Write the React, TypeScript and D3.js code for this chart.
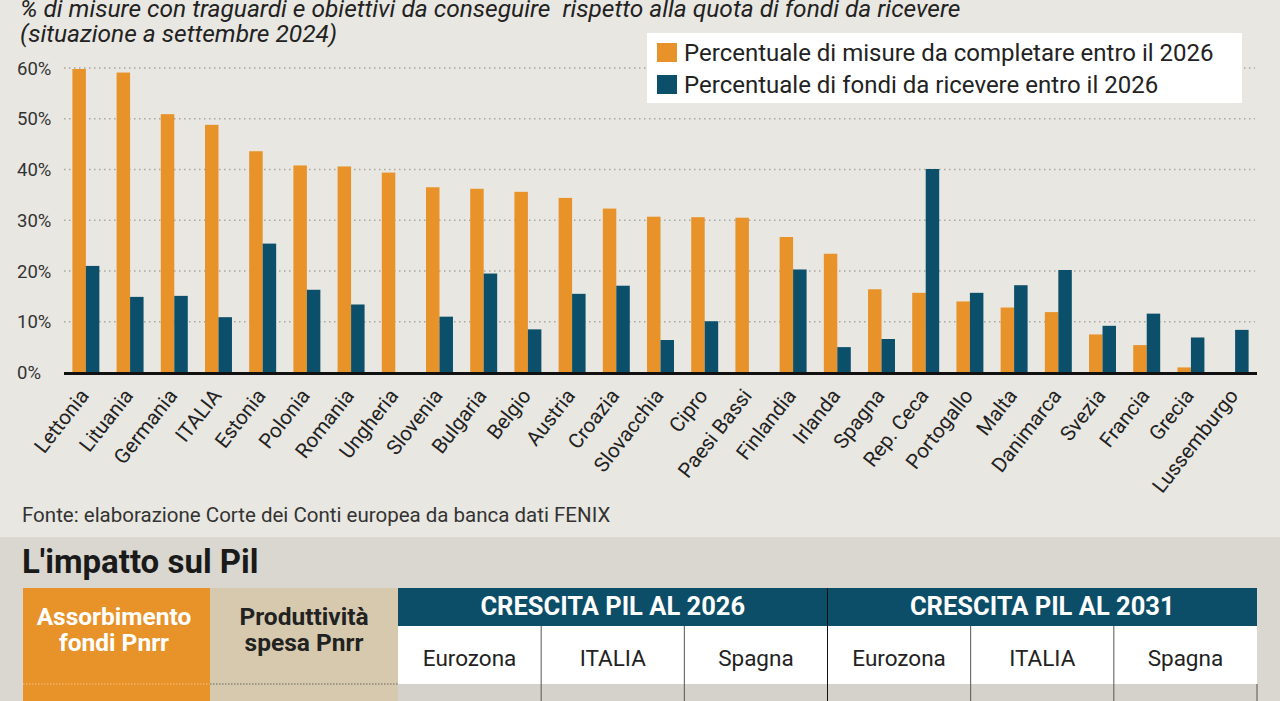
import React from 'react';
import * as d3 from 'd3';

const countries = ['Lettonia','Lituania','Germania','ITALIA','Estonia','Polonia','Romania','Ungheria','Slovenia','Bulgaria','Belgio','Austria','Croazia','Slovacchia','Cipro','Paesi Bassi','Finlandia','Irlanda','Spagna','Rep. Ceca','Portogallo','Malta','Danimarca','Svezia','Francia','Grecia','Lussemburgo'];
const misure = [59.8,59.1,50.9,48.8,43.6,40.8,40.6,39.4,36.5,36.2,35.6,34.4,32.3,30.7,30.6,30.5,26.7,23.4,16.4,15.7,14.0,12.8,11.9,7.5,5.4,1.0,0];
const fondi = [21.0,14.9,15.1,10.9,25.4,16.3,13.4,0,11.0,19.5,8.5,15.5,17.1,6.4,10.1,0,20.3,5.0,6.6,40.1,15.7,17.2,20.2,9.2,11.6,6.9,8.4];
const yTicks = [0,10,20,30,40,50,60];
const seriesKeys = ['misure','fondi'];
const seriesLabels = ['Percentuale di misure da completare entro il 2026','Percentuale di fondi da ricevere entro il 2026'];
const titleLines = ['% di misure con traguardi e obiettivi da conseguire  rispetto alla quota di fondi da ricevere','(situazione a settembre 2024)'];
const source = 'Fonte: elaborazione Corte dei Conti europea da banca dati FENIX';
const tableTitle = "L'impatto sul Pil";
const groupHeaders = ['CRESCITA PIL AL 2026','CRESCITA PIL AL 2031'];
const subHeaders = ['Eurozona','ITALIA','Spagna'];
const leftHeaders = [['Assorbimento','fondi Pnrr'],['Produttività','spesa Pnrr']];

const ORANGE = '#E8922A';
const BLUE = '#0B4F6A';
const FONT = 'Roboto, sans-serif';

export default function App() {
  const x = d3.scaleBand<string>().domain(countries).range([64, 1257]).paddingInner(0.39).paddingOuter(0.19);
  const xs = d3.scaleBand<string>().domain(seriesKeys).range([0, x.bandwidth()]);
  const y = d3.scaleLinear().domain([0, 60]).range([372.5, 68]);
  const color = d3.scaleOrdinal<string, string>().domain(seriesKeys).range([ORANGE, BLUE]);
  const data = countries.map((c, i) => ({ c, misure: misure[i], fondi: fondi[i] }));

  const tX0 = 398, tX1 = 1257;
  const colX = d3.scaleBand<number>().domain(d3.range(6)).range([tX0, tX1]);

  return (
    <svg width={1280} height={701} style={{ position: 'absolute', left: 0, top: 0 }} fontFamily={FONT}>
      <rect x={0} y={0} width={1280} height={701} fill="#e9e7e1" />
      {titleLines.map((t, i) => (
        <text key={i} x={20} y={17 + i * 25} fontSize={24.5} fontStyle="italic" fill="#222" style={{ whiteSpace: 'pre' }}>{t}</text>
      ))}
      {yTicks.map(t => (
        <g key={t}>
          {t > 0 && <line x1={64} x2={1255} y1={y(t)} y2={y(t)} stroke="#a9a7a1" strokeWidth={1.3} strokeDasharray="1.5 3.5" />}
          <text x={17} y={y(t)} dy="0.36em" fontSize={18.5} fill="#333">{t}%</text>
        </g>
      ))}
      <rect x={647} y={33} width={595} height={70} fill="#ffffff" />
      {seriesLabels.map((s, i) => (
        <g key={s}>
          <rect x={657} y={43 + i * 32} width={20} height={19} fill={color(seriesKeys[i])} />
          <text x={684} y={61 + i * 32} fontSize={24} fill="#222">{s}</text>
        </g>
      ))}
      {data.map(d => (
        <g key={d.c} transform={`translate(${x(d.c)},0)`}>
          {seriesKeys.map(k => {
            const v = (d as any)[k] as number;
            if (!v) return null;
            return <rect key={k} x={xs(k)} y={y(v)} width={xs.bandwidth()} height={y(0) - y(v)} fill={color(k)} />;
          })}
        </g>
      ))}
      <line x1={64} x2={1257} y1={373.5} y2={373.5} stroke="#111" strokeWidth={3} />
      {countries.map(c => (
        <text key={c} transform={`translate(${(x(c) as number) + x.bandwidth() / 2 + 4},396) rotate(-52)`} textAnchor="end" fontSize={20.5} fill="#222">{c}</text>
      ))}
      <text x={22} y={522} fontSize={20.5} fill="#333">{source}</text>

      <rect x={0} y={537} width={1280} height={164} fill="#d9d7cf" />
      <text x={22} y={573} fontSize={33} fontWeight="bold" fill="#1a1a1a">{tableTitle}</text>
      <rect x={23} y={588} width={187} height={113} fill={ORANGE} />
      <rect x={210} y={588} width={188} height={113} fill="#d6c9ae" />
      <rect x={tX0} y={588} width={tX1 - tX0} height={38} fill="#0C4E68" />
      <rect x={tX0} y={626} width={tX1 - tX0} height={58} fill="#ffffff" />
      <rect x={tX0} y={684} width={tX1 - tX0} height={17} fill="#d4d2ca" />
      {leftHeaders.map((lines, i) => lines.map((l, j) => (
        <text key={`${i}-${j}`} x={i === 0 ? 114 : 304} y={625 + j * 26} textAnchor="middle" fontSize={24.5} fontWeight="bold" fill={i === 0 ? '#ffffff' : '#222'}>{l}</text>
      )))}
      <line x1={23} x2={210} y1={684} y2={684} stroke="#f6c27e" strokeWidth={1.2} strokeDasharray="1.5 1.5" />
      <line x1={210} x2={398} y1={684} y2={684} stroke="#6a665e" strokeWidth={1.2} strokeDasharray="1.5 1.5" />
      {groupHeaders.map((g, i) => (
        <text key={g} x={(colX(i * 3) as number) + colX.bandwidth() * 1.5} y={615} textAnchor="middle" fontSize={25.5} fontWeight="bold" fill="#ffffff">{g}</text>
      ))}
      {d3.range(6).map(i => (
        <text key={i} x={(colX(i) as number) + colX.bandwidth() / 2} y={666} textAnchor="middle" fontSize={22.5} fill="#222">{subHeaders[i % 3]}</text>
      ))}
      {d3.range(1, 6).map(i => (
        <line key={i} x1={colX(i)} x2={colX(i)} y1={i === 3 ? 588 : 626} y2={701} stroke={i === 3 ? '#111' : '#555'} strokeWidth={1} />
      ))}
      <line x1={tX1} x2={tX1} y1={684} y2={701} stroke="#555" strokeWidth={1} />
    </svg>
  );
}
